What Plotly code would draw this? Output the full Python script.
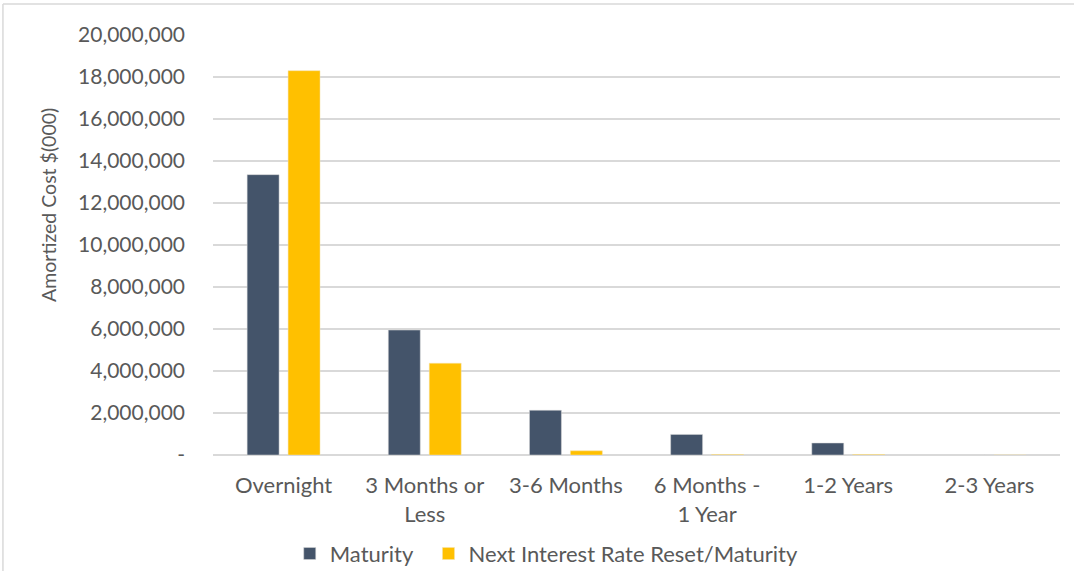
import plotly.graph_objects as go

categories = ["Overnight", "3 Months or<br>Less", "3-6 Months", "6 Months -<br>1 Year", "1-2 Years", "2-3 Years"]
maturity = [13350000, 5950000, 2130000, 980000, 570000, 0]
next_reset = [18300000, 4370000, 200000, 20000, 20000, 0]
tick_vals = [0, 2000000, 4000000, 6000000, 8000000, 10000000, 12000000, 14000000, 16000000, 18000000, 20000000]
tick_text = ["-", "2,000,000", "4,000,000", "6,000,000", "8,000,000", "10,000,000", "12,000,000",
             "14,000,000", "16,000,000", "18,000,000", "20,000,000"]
y_title = "Amortized Cost $(000)"

font_family = "Lato, Open Sans, sans-serif"
txt = "#595959"

fig = go.Figure()
fig.add_trace(go.Bar(x=categories, y=maturity, name="Maturity", legend="legend",
                     marker=dict(color="#44546A", line=dict(color="#D9D9D9", width=0.5))))
fig.add_trace(go.Bar(x=categories, y=next_reset, name="Next Interest Rate Reset/Maturity", legend="legend2",
                     marker=dict(color="#FFC000", line=dict(color="#F2E2B0", width=0.5))))

leg_common = dict(orientation="h", y=-0.185, yanchor="top", xanchor="left",
                  font=dict(size=22, color=txt), bgcolor="rgba(0,0,0,0)")

fig.update_layout(
    width=1074, height=571,
    margin=dict(l=213, r=14, t=35, b=116, autoexpand=False),
    paper_bgcolor="white", plot_bgcolor="white",
    barmode="group", bargap=0.42, bargroupgap=0.22,
    font=dict(family=font_family, size=21, color=txt),
    showlegend=True,
    legend=dict(x=0.0906, **leg_common),
    legend2=dict(x=0.2544, **leg_common),
    xaxis=dict(showgrid=False, showline=False, ticks="", automargin=False,
               ticklabelstandoff=15, tickfont=dict(size=22, color=txt)),
    yaxis=dict(range=[0, 20000000], tickvals=tick_vals, ticktext=tick_text, automargin=False,
               showgrid=True, gridcolor="#D9D9D9", gridwidth=1.5, zeroline=True,
               zerolinecolor="#D9D9D9", zerolinewidth=1.5, ticks="", ticklen=0,
               ticklabelstandoff=27,
               tickfont=dict(size=21, color=txt)),
    annotations=[
        dict(text=y_title, xref="paper", yref="paper", x=-0.195, y=0.595,
             xanchor="center", yanchor="middle", textangle=-90, showarrow=False,
             font=dict(size=19.5, color=txt)),
    ],
    shapes=[
        dict(type="line", xref="paper", yref="paper", x0=-0.248, x1=1.02, y0=1.074, y1=1.074,
             line=dict(color="#D9D9D9", width=1.5)),
        dict(type="line", xref="paper", yref="paper", x0=-0.248, x1=-0.248, y0=1.074, y1=-0.28,
             line=dict(color="#D9D9D9", width=1.5)),
    ],
)

fig.write_html("out.html", config={"displayModeBar": False},
               post_script="document.body.style.margin='0';")
